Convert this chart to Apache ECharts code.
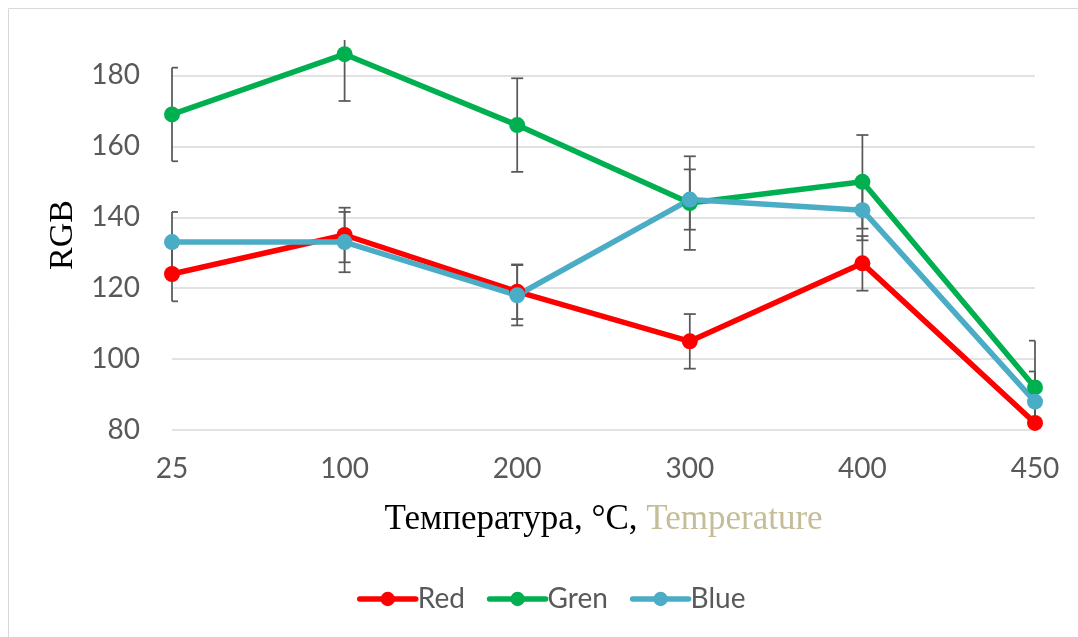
<!DOCTYPE html>
<html>
<head>
<meta charset="utf-8">
<script src="https://cdn.jsdelivr.net/npm/echarts@6/dist/echarts.min.js"></script>
<style>
html,body{margin:0;padding:0;background:#fff;}
#chart{width:1078px;height:637px;}
</style>
</head>
<body>
<div id="chart"></div>
<script>
const categories = ['25', '100', '200', '300', '400', '450'];
const redValues = [124, 135, 119, 105, 127, 82];
const greenValues = [169, 186, 166, 144, 150, 92];
const blueValues = [133, 133, 118, 145, 142, 88];
const redErr = [7.7, 7.7, 7.7, 7.7, 7.7, 7.7];
const greenErr = [13.2, 13.2, 13.2, 13.2, 13.2, 13.2];
const blueErr = [8.5, 8.5, 8.5, 8.5, 8.5, 8.5];
const yTicks = {min: 80, max: 190, interval: 20};

const chart = echarts.init(document.getElementById('chart'));

function errData(vals, errs) {
  return vals.map((v, i) => [i, v, errs[i]]);
}

function renderErr(params, api) {
  const cs = params.coordSys;
  const xi = api.value(0), v = api.value(1), e = api.value(2);
  let top = v + e, bot = v - e;
  const topClip = top > yTicks.max, botClip = bot < yTicks.min;
  top = Math.min(top, yTicks.max);
  bot = Math.max(bot, yTicks.min);
  const p1 = api.coord([xi, top]);
  const p2 = api.coord([xi, bot]);
  const half = 6;
  const l = Math.max(cs.x, p1[0] - half);
  const r = Math.min(cs.x + cs.width, p1[0] + half);
  const style = {stroke: '#595959', lineWidth: 1.75};
  const children = [{type: 'line', shape: {x1: p1[0], y1: p1[1], x2: p2[0], y2: p2[1]}, style}];
  if (!topClip) children.push({type: 'line', shape: {x1: l, y1: p1[1], x2: r, y2: p1[1]}, style});
  if (!botClip) children.push({type: 'line', shape: {x1: l, y1: p2[1], x2: r, y2: p2[1]}, style});
  return {type: 'group', children};
}

function lineSeries(name, data, color) {
  return {
    name, type: 'line', data, z: 3,
    symbol: 'circle', symbolSize: 16,
    lineStyle: {color, width: 5.5},
    itemStyle: {color},
    emphasis: {disabled: true}
  };
}
function errSeries(vals, errs) {
  return {type: 'custom', renderItem: renderErr, data: errData(vals, errs), z: 2, silent: true};
}

const labelColor = '#595959';
chart.setOption({
  animation: false,
  graphic: [{
    type: 'rect', shape: {x: 8.5, y: 8.5, width: 2000, height: 2000},
    style: {fill: 'none', stroke: '#d9d9d9', lineWidth: 1}, silent: true
  }],
  grid: {left: 172, right: 43, top: 40, bottom: 207},
  legend: {
    data: ['Red', 'Gren', 'Blue'],
    bottom: 19, left: 352,
    itemWidth: 56, itemHeight: 18, itemGap: 22,
    lineStyle: {width: 5.5, cap: 'round'},
    textStyle: {color: labelColor, fontFamily: 'Lato', fontSize: 28, padding: [0, 0, 0, -3]}
  },
  xAxis: {
    type: 'category', data: categories, boundaryGap: false,
    axisLine: {show: false}, axisTick: {show: false},
    axisLabel: {color: labelColor, fontFamily: 'Lato', fontSize: 28, margin: 25},
    name: 'Температура, °C, {t|Temperature}',
    nameLocation: 'middle', nameGap: 72,
    nameTextStyle: {
      color: '#000', fontFamily: 'Liberation Serif', fontSize: 35,
      rich: {t: {color: '#c4bd97', fontFamily: 'Liberation Serif', fontSize: 35}}
    }
  },
  yAxis: {
    type: 'value', min: yTicks.min, max: yTicks.max, interval: yTicks.interval,
    axisLine: {show: false}, axisTick: {show: false},
    axisLabel: {color: labelColor, fontFamily: 'Lato', fontSize: 28, margin: 32, showMaxLabel: false},
    splitLine: {show: true, showMaxLine: false, lineStyle: {color: '#d9d9d9', width: 1.5}},
    name: 'RGB', nameLocation: 'middle', nameGap: 90, nameRotate: 90,
    nameTextStyle: {color: '#000', fontFamily: 'Liberation Serif', fontSize: 34}
  },
  series: [
    errSeries(redValues, redErr),
    errSeries(greenValues, greenErr),
    errSeries(blueValues, blueErr),
    lineSeries('Red', redValues, '#ff0000'),
    lineSeries('Gren', greenValues, '#00b050'),
    lineSeries('Blue', blueValues, '#4bacc6')
  ]
});
</script>
</body>
</html>
